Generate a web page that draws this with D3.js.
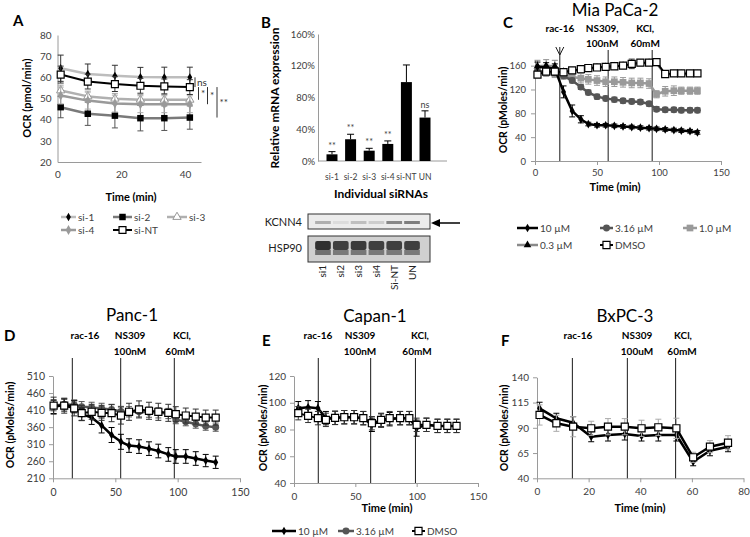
<!DOCTYPE html>
<html><head><meta charset="utf-8">
<script src="https://cdn.jsdelivr.net/npm/d3@7"></script>
<style>
body{margin:0;background:#fff;}
svg{font-family:Lato,"Open Sans",sans-serif;}
</style></head><body>
<svg id="c" width="750" height="537"></svg>
<script>
// ---------- DATA ----------
// Panel A
const aTimes = [1, 9.5, 18, 26, 33.5, 41.5];
const aYTicks = [20, 30, 40, 50, 60, 70, 80];
const aXTicks = [0, 20, 40];
const aSi1 = [64.3, 61.6, 60.7, 60.1, 60, 60];
const aSi1Err = [6.2, 4.7, 5, 4.6, 4.8, 4.8];
const aSi2 = [45.9, 42.8, 41.9, 40.7, 40.7, 41];
const aSi2Err = [5, 5.5, 5.8, 6, 5.8, 5.5];
const aSi3 = [53.8, 51, 49.9, 49.4, 49.4, 49.4];
const aSi3Err = [2.5, 2.5, 2.5, 2.5, 2.5, 2.5];
const aSi4 = [51.4, 49, 47.6, 47.3, 47.3, 47.3];
const aSi4Err = [4, 4, 4, 4, 4, 4];
const aSiNT = [61.3, 58, 56.8, 56, 55.7, 55.4];
const aSiNTErr = [4, 3.5, 3.5, 3.5, 3.5, 3.5];
const aSignif = ['ns', '*', '*', '**'];

// Panel B
const bCats = ['si-1', 'si-2', 'si-3', 'si-4', 'si-NT', 'UN'];
const bValues = [0.084, 0.274, 0.13, 0.215, 0.994, 0.547];
const bErrors = [0.034, 0.063, 0.03, 0.038, 0.216, 0.085];
const bSignif = ['**', '**', '**', '**', '', 'ns'];
const bYTicks = [0, 0.4, 0.8, 1.2, 1.6];
const blotLanes = ['si1', 'si2', 'si3', 'si4', 'Si-NT', 'UN'];
const kcnn4Band = [0.3, 0.08, 0.22, 0.15, 0.5, 0.55];
const hsp90Band = [0.95, 0.85, 0.88, 0.85, 0.85, 0.85];

// Panel C (Mia PaCa-2)
const cTimes = [2, 9, 16, 23, 30, 37, 43, 50, 57, 64, 71, 78, 85, 92, 98, 105, 112, 118, 125, 131];
const c10 = [158, 157, 155, 116, 84, 70, 62, 60, 60, 59, 58, 57, 56, 55, 54, 53, 52, 51, 50, 48];
const c10Err = [8, 8, 8, 10, 10, 6, 3, 3, 3, 3, 3, 3, 3, 3, 3, 3, 3, 3, 3, 3];
const c316 = [150, 150, 148, 143, 135, 124, 115, 108, 105, 103, 101, 100, 99, 96, 87, 86, 86, 85, 85, 85];
const c316Err = [4, 4, 4, 4, 4, 4, 4, 4, 4, 4, 4, 4, 4, 4, 4, 4, 4, 4, 4, 4];
const c1 = [148, 148, 146, 144, 141, 139, 137, 135, 133, 133, 132, 131, 131, 130, 112, 117, 118, 118, 118, 118];
const c1Err = [6, 6, 6, 7, 8, 8, 8, 8, 8, 8, 8, 8, 8, 8, 6, 8, 8, 6, 6, 6];
const c03 = [159, 160, 159, 150, 151, 153, 155, 157, 158, 159, 160, 162, 164, 165, 164, 145, 146, 146, 146, 146];
const c03Err = [10, 10, 10, 4, 4, 4, 4, 4, 4, 4, 4, 4, 4, 4, 4, 4, 4, 4, 4, 4];
const cDMSO = [145, 150, 150, 149, 152, 154, 156, 157, 158, 159, 160, 163, 165, 165, 166, 146, 147, 147, 147, 147];
const cDMSOErr = [4, 4, 4, 4, 4, 4, 4, 4, 4, 4, 4, 8, 4, 4, 4, 4, 4, 4, 4, 4];
const cYTicks = [0, 40, 80, 120, 160];
const cXTicks = [0, 50, 100, 150];
const cInject = [20, 59, 94.5];

// Panel D (Panc-1)
const dTimes = [0.5, 9, 17, 23, 31, 39, 47, 54.5, 61, 69, 77, 84.5, 92.5, 98.5, 106.5, 114.5, 122.5, 130.5];
const d10 = [420, 425, 420, 398, 388, 365, 337, 317, 306, 303, 297, 290, 280, 274, 274, 268, 262, 257];
const d316 = [423, 427, 425, 420, 418, 415, 412, 406, 405, 405, 404, 402, 400, 382, 376, 369, 363, 360];
const dDMSO = [423, 423, 415, 401, 405, 402, 401, 394, 405, 412, 408, 405, 402, 398, 394, 391, 388, 388];
const dErr10 = [20, 18, 18, 18, 20, 22, 22, 22, 20, 20, 20, 20, 20, 20, 20, 20, 18, 18];
const dErr316 = [15, 15, 15, 15, 15, 15, 15, 15, 15, 15, 15, 15, 15, 12, 12, 12, 12, 12];
const dErrDMSO = [25, 22, 22, 22, 22, 22, 25, 25, 25, 25, 25, 25, 25, 22, 22, 22, 22, 22];
const dYTicks = [210, 260, 310, 360, 410, 460, 510];
const dXTicks = [0, 50, 100, 150];
const dInject = [15.5, 54.3, 97.3];

// Panel E (Capan-1)
const eTimes = [3.5, 11.5, 19.5, 26, 33.5, 41, 49, 56.5, 63.5, 71, 78, 86.5, 94, 100, 108, 117, 125, 132.5];
const e10 = [95.9, 96.6, 95.9, 88.5, 88.7, 89.2, 89.2, 88.5, 83.5, 86.7, 87.7, 88.5, 88.5, 81, 83.5, 82.7, 82.7, 82.7];
const eDMSO = [92.2, 90.2, 88.5, 87.2, 88.7, 89.2, 89.2, 88.5, 84.7, 87.2, 88.5, 88.5, 88.5, 83.5, 83.5, 82.7, 82.7, 82.7];
const eErr10 = [5, 5, 5, 5, 5, 5, 5, 5, 5, 5, 5, 5, 5, 6, 5, 5, 5, 5];
const eErrDMSO = [5, 5, 5, 5, 5, 5, 5, 5, 5, 5, 5, 5, 5, 5, 5, 5, 5, 5];
const eYTicks = [40, 60, 80, 100, 120];
const eXTicks = [0, 50, 100, 150];
const eInject = [19.8, 62.5, 99];

// Panel F (BxPC-3)
const fTimes = [1, 7.5, 14, 21, 27.5, 34, 40.5, 47, 54, 60.5, 67, 74];
const f10 = [109.3, 99.4, 95, 81.2, 82.9, 83.9, 81.9, 82.9, 82.9, 56.4, 67.3, 71.3];
const fDMSO = [102.7, 94.5, 91.1, 89.5, 91.1, 91.1, 89.5, 90.5, 89.5, 60.8, 71.3, 75.2];
const fErr10 = [6, 5, 6, 5, 6, 6, 5, 6, 6, 4, 5, 5];
const fErrDMSO = [10, 8, 10, 7, 8, 8, 8, 8, 10, 5, 6, 7];
const fYTicks = [40, 65, 90, 115, 140];
const fXTicks = [0, 20, 40, 60, 80];
const fInject = [13.7, 35, 53.7];

// ---------- DRAWING ----------
const svg = d3.select('#c');
const FONT = 'Lato, "Open Sans", sans-serif';
const AXIS_COL = '#9a9a9a';
const TICK_TXT = '#404040';
const symbols = {diamond: d3.symbolDiamond, square: d3.symbolSquare, circle: d3.symbolCircle, triangle: d3.symbolTriangle};

function txt(g, x, y, s, o = {}) {
  const t = g.append('text').attr('x', x).attr('y', y).text(s)
    .attr('font-family', FONT)
    .attr('font-size', o.size || 10)
    .attr('font-weight', o.bold ? 'bold' : 'normal')
    .attr('fill', o.fill || '#000')
    .attr('text-anchor', o.anchor || 'start');
  if (o.rotate) t.attr('transform', `rotate(${o.rotate},${x},${y})`);
  return t;
}

function styleAxis(a, fs) {
  a.attr('font-family', null).attr('font-size', null);
  a.select('.domain').attr('stroke', AXIS_COL).attr('stroke-width', 1);
  a.selectAll('.tick line').attr('stroke', AXIS_COL);
  a.selectAll('.tick text').attr('fill', TICK_TXT).attr('font-family', FONT).attr('font-size', fs || 10);
}

function drawSeries(g, x, y, s) {
  const pts = s.t.map((t, i) => ({t, v: s.v[i], e: s.e ? s.e[i] : 0}));
  const eg = g.append('g').attr('stroke', s.ecolor || s.color).attr('stroke-width', 1);
  pts.forEach(p => {
    if (!p.e) return;
    const cx = x(p.t), lo = y(p.v - p.e), hi = y(p.v + p.e);
    eg.append('line').attr('x1', cx).attr('x2', cx).attr('y1', lo).attr('y2', hi);
    eg.append('line').attr('x1', cx - 3).attr('x2', cx + 3).attr('y1', hi).attr('y2', hi);
    eg.append('line').attr('x1', cx - 3).attr('x2', cx + 3).attr('y1', lo).attr('y2', lo);
  });
  g.append('path').datum(pts)
    .attr('d', d3.line().x(d => x(d.t)).y(d => y(d.v)))
    .attr('fill', 'none').attr('stroke', s.color).attr('stroke-width', s.lw || 2)
    .attr('stroke-linejoin', 'round');
  const sym = d3.symbol().type(symbols[s.marker]).size(s.msize || 30);
  g.append('g').selectAll('path').data(pts).join('path')
    .attr('d', sym)
    .attr('transform', d => `translate(${x(d.t)},${y(d.v)})`)
    .attr('fill', s.mfill).attr('stroke', s.mstroke || 'none').attr('stroke-width', s.msw || 1);
}

function legendItem(g, x1, x2, yy, label, s) {
  g.append('line').attr('x1', x1).attr('x2', x2).attr('y1', yy).attr('y2', yy)
    .attr('stroke', s.color).attr('stroke-width', s.lw || 2);
  g.append('path').attr('d', d3.symbol().type(symbols[s.marker]).size(s.msize || 30)())
    .attr('transform', `translate(${(x1 + x2) / 2},${yy})`)
    .attr('fill', s.mfill).attr('stroke', s.mstroke || 'none').attr('stroke-width', s.msw || 1);
  txt(g, x2 + 2, yy + 3.5, label, {size: 10, fill: '#404040'});
}

function linePanel(cfg) {
  const g = svg.append('g');
  const x = d3.scaleLinear().domain(cfg.xDomain).range(cfg.xRange);
  const y = d3.scaleLinear().domain(cfg.yDomain).range(cfg.yRange);
  const ya = g.append('g').attr('transform', `translate(${cfg.xRange[0]},0)`)
    .call(d3.axisLeft(y).tickValues(cfg.yTicks).tickSize(cfg.tick || 0).tickSizeOuter(0).tickPadding(cfg.ypad || 4));
  styleAxis(ya, cfg.fs);
  const xa = g.append('g').attr('transform', `translate(0,${cfg.yRange[0]})`)
    .call(d3.axisBottom(x).tickValues(cfg.xTicks).tickSize(cfg.tick || 0).tickSizeOuter(0).tickPadding(cfg.xpad || 5));
  styleAxis(xa, cfg.fs);
  (cfg.vlines || []).forEach((v, i) => {
    const top = cfg.vTops ? cfg.vTops[i] : cfg.vTop;
    g.append('line').attr('x1', x(v)).attr('x2', x(v)).attr('y1', top).attr('y2', cfg.yRange[0])
      .attr('stroke', '#1a1a1a').attr('stroke-width', 1);
    if (cfg.arrow === i) {
      g.append('path').attr('d', `M${x(v) - 4},${top} L${x(v)},${top + 8} L${x(v) + 4},${top}`)
        .attr('fill', 'none').attr('stroke', '#1a1a1a');
    }
  });
  cfg.series.forEach(s => drawSeries(g, x, y, s));
  return {g, x, y};
}

// styles
const S10 = {color: '#000', lw: 2.5, marker: 'diamond', mfill: '#000', msize: 22, ecolor: '#000'};
const S316 = {color: '#555', lw: 2.5, marker: 'circle', mfill: '#555', msize: 38, ecolor: '#555'};
const S1 = {color: '#9a9a9a', lw: 2.5, marker: 'square', mfill: '#9a9a9a', msize: 45, ecolor: '#9a9a9a'};
const S03 = {color: '#8a8a8a', lw: 2.5, marker: 'triangle', mfill: '#000', msize: 25, ecolor: '#8a8a8a'};
const SDMSO = {color: '#000', lw: 2, marker: 'square', mfill: '#fff', mstroke: '#000', msw: 1.2, msize: 50, ecolor: '#333'};

// ===== Panel A =====
{
  const A = linePanel({
    xDomain: [0, 45], xRange: [57.5, 201], yDomain: [20, 80], yRange: [162, 35],
    yTicks: aYTicks, xTicks: aXTicks, tick: 0, ypad: 6, xpad: 9,
    series: [
      {t: aTimes, v: aSi1, e: aSi1Err, color: '#bdbdbd', lw: 2.5, marker: 'diamond', mfill: '#000', msize: 20, ecolor: '#333'},
      {t: aTimes, v: aSi2, e: aSi2Err, color: '#7a7a7a', lw: 2.5, marker: 'square', mfill: '#000', msize: 42, ecolor: '#555'},
      {t: aTimes, v: aSi3, e: aSi3Err, color: '#b0b0b0', lw: 2.5, marker: 'triangle', mfill: '#fff', mstroke: '#999', msize: 30, ecolor: '#aaa'},
      {t: aTimes, v: aSi4, e: aSi4Err, color: '#9a9a9a', lw: 2.5, marker: 'diamond', mfill: '#9a9a9a', msize: 28, ecolor: '#aaa'},
      {t: aTimes, v: aSiNT, e: aSiNTErr, color: '#000', lw: 2, marker: 'square', mfill: '#fff', mstroke: '#000', msw: 1.2, msize: 48, ecolor: '#333'}
    ]
  });
  const g = A.g, y = A.y;
  const last = arr => arr[arr.length - 1];
  const br = [
    {x: 195, a: last(aSi1), b: last(aSiNT), tx: 197, lab: aSignif[0]},
    {x: 198.5, a: last(aSiNT), b: last(aSi3), tx: 201, lab: aSignif[1]},
    {x: 207.5, a: last(aSiNT), b: last(aSi4), tx: 210, lab: aSignif[2]},
    {x: 217, a: last(aSiNT), b: last(aSi2), tx: 219.5, lab: aSignif[3]}
  ];
  br.forEach(b => {
    g.append('line').attr('x1', b.x).attr('x2', b.x).attr('y1', y(b.a)).attr('y2', y(b.b)).attr('stroke', '#333').attr('stroke-width', 1);
    txt(g, b.tx, (y(b.a) + y(b.b)) / 2 + 3.5, b.lab, {size: 10, fill: '#333'});
  });
  txt(svg, 13, 26, 'A', {size: 15, bold: true});
  txt(svg, 31, 98, 'OCR (pmol/min)', {size: 11, bold: true, anchor: 'middle', rotate: -90});
  txt(svg, 131, 201, 'Time (min)', {size: 11, bold: true, anchor: 'middle'});
  const lg = svg.append('g');
  legendItem(lg, 61, 76, 217, 'si-1', {color: '#bdbdbd', lw: 2.5, marker: 'diamond', mfill: '#000', msize: 20});
  legendItem(lg, 113, 132, 217, 'si-2', {color: '#7a7a7a', lw: 2.5, marker: 'square', mfill: '#000', msize: 42});
  legendItem(lg, 167, 187, 217, 'si-3', {color: '#b0b0b0', lw: 2.5, marker: 'triangle', mfill: '#fff', mstroke: '#999', msize: 30});
  legendItem(lg, 61, 76, 230, 'si-4', {color: '#9a9a9a', lw: 2.5, marker: 'diamond', mfill: '#9a9a9a', msize: 28});
  legendItem(lg, 113, 132, 230, 'si-NT', {color: '#000', lw: 2, marker: 'square', mfill: '#fff', mstroke: '#000', msw: 1.2, msize: 48});
}

// ===== Panel B =====
{
  const g = svg.append('g');
  const y = d3.scaleLinear().domain([0, 1.6]).range([161, 34]);
  const x = d3.scaleBand().domain(bCats).range([326.5, 430.5]).paddingInner(0.41).paddingOuter(0);
  const ya = g.append('g').attr('transform', 'translate(318,0)')
    .call(d3.axisLeft(y).tickValues(bYTicks).tickFormat(d3.format('.0%')).tickSize(0).tickSizeOuter(0).tickPadding(3));
  styleAxis(ya, 9.5);
  g.append('line').attr('x1', 318).attr('x2', 447).attr('y1', 161).attr('y2', 161).attr('stroke', AXIS_COL);
  bCats.forEach((c, i) => {
    const bx = x(c), bw = x.bandwidth(), cx = bx + bw / 2;
    g.append('rect').attr('x', bx).attr('y', y(bValues[i])).attr('width', bw).attr('height', y(0) - y(bValues[i])).attr('fill', '#000');
    const top = y(bValues[i] + bErrors[i]);
    g.append('line').attr('x1', cx).attr('x2', cx).attr('y1', y(bValues[i])).attr('y2', top).attr('stroke', '#000');
    g.append('line').attr('x1', cx - 3.5).attr('x2', cx + 3.5).attr('y1', top).attr('y2', top).attr('stroke', '#000');
    if (bSignif[i]) txt(g, cx, top - 3, bSignif[i], {size: 9, anchor: 'middle', fill: '#404040'});
    txt(g, cx, 180, c, {size: 8.5, anchor: 'middle', fill: '#404040'});
  });
  txt(svg, 261, 28, 'B', {size: 15, bold: true});
  txt(svg, 279, 98, 'Relative mRNA expression', {size: 12, bold: true, anchor: 'middle', rotate: -90});
  txt(svg, 381, 198, 'Individual siRNAs', {size: 12, bold: true, anchor: 'middle'});

  // Western blot
  const lx = d3.scaleBand().domain(blotLanes).range([313, 422]).padding(0.12);
  g.append('rect').attr('x', 308).attr('y', 214).attr('width', 122).attr('height', 15).attr('fill', '#ececec').attr('stroke', '#333');
  blotLanes.forEach((l, i) => {
    g.append('rect').attr('x', lx(l)).attr('y', 221).attr('width', lx.bandwidth()).attr('height', 3)
      .attr('fill', '#222').attr('opacity', kcnn4Band[i]);
  });
  g.append('rect').attr('x', 308).attr('y', 236).attr('width', 122).attr('height', 26).attr('fill', '#d0d0d0').attr('stroke', '#333');
  blotLanes.forEach((l, i) => {
    g.append('rect').attr('x', lx(l)).attr('y', 241).attr('width', lx.bandwidth()).attr('height', 9)
      .attr('fill', '#262626').attr('opacity', hsp90Band[i]).attr('rx', 2);
    g.append('rect').attr('x', lx(l)).attr('y', 250).attr('width', lx.bandwidth()).attr('height', 5)
      .attr('fill', '#6a6a6a').attr('opacity', hsp90Band[i]);
    txt(g, lx(l) + lx.bandwidth() / 2 + 3.5, 265, l, {size: 10, anchor: 'end', rotate: -90, fill: '#222'});
  });
  txt(g, 302, 226, 'KCNN4', {size: 11, anchor: 'end', fill: '#222'});
  txt(g, 302, 252, 'HSP90', {size: 11, anchor: 'end', fill: '#222'});
  g.append('line').attr('x1', 460).attr('x2', 438).attr('y1', 223).attr('y2', 223).attr('stroke', '#000').attr('stroke-width', 1.5);
  g.append('path').attr('d', 'M431,223 L440,219 L440,227 Z').attr('fill', '#000');
}

// ===== Panel C =====
{
  const C = linePanel({
    xDomain: [0, 150], xRange: [535, 721], yDomain: [0, 170], yRange: [161, 59.7],
    yTicks: cYTicks, xTicks: cXTicks, tick: 4, ypad: 5, xpad: 4, fs: 9.5,
    vlines: cInject, vTops: [47, 50, 50], arrow: 0,
    series: [
      Object.assign({t: cTimes, v: c03, e: c03Err}, S03),
      Object.assign({t: cTimes, v: c1, e: c1Err}, S1),
      Object.assign({t: cTimes, v: c316, e: c316Err}, S316),
      Object.assign({t: cTimes, v: c10, e: c10Err}, S10),
      Object.assign({t: cTimes, v: cDMSO, e: cDMSOErr}, SDMSO)
    ]
  });
  const x = C.x;
  txt(svg, 615, 16, 'Mia PaCa-2', {size: 17, anchor: 'middle'});
  txt(svg, 503, 28, 'C', {size: 15, bold: true});
  txt(svg, 560, 32, 'rac-16', {size: 10, bold: true, anchor: 'middle'});
  txt(svg, x(cInject[1]) - 6, 32, 'NS309,', {size: 10, bold: true, anchor: 'middle'});
  txt(svg, x(cInject[1]) - 6, 47, '100nM', {size: 10, bold: true, anchor: 'middle'});
  txt(svg, x(cInject[2]) - 7, 32, 'KCl,', {size: 10, bold: true, anchor: 'middle'});
  txt(svg, x(cInject[2]) - 7, 47, '60mM', {size: 10, bold: true, anchor: 'middle'});
  txt(svg, 507, 110, 'OCR (pMoles/min)', {size: 10.5, bold: true, anchor: 'middle', rotate: -90});
  txt(svg, 615, 191, 'Time (min)', {size: 11, bold: true, anchor: 'middle'});
  const lg = svg.append('g');
  legendItem(lg, 517, 538, 228, '10 µM', S10);
  legendItem(lg, 600, 613, 228, '3.16 µM', S316);
  legendItem(lg, 683, 697, 228, '1.0 µM', S1);
  legendItem(lg, 517, 538, 245, '0.3 µM', S03);
  legendItem(lg, 600, 613, 245, 'DMSO', SDMSO);
}

// ===== Panel D =====
{
  linePanel({
    xDomain: [0, 150], xRange: [53, 240], yDomain: [210, 510], yRange: [478.3, 376],
    yTicks: dYTicks, xTicks: dXTicks, tick: 4, ypad: 4, xpad: 6, fs: 10.5,
    vlines: dInject, vTop: 358,
    series: [
      Object.assign({t: dTimes, v: d316, e: dErr316}, S316),
      Object.assign({t: dTimes, v: d10, e: dErr10}, S10),
      Object.assign({t: dTimes, v: dDMSO, e: dErrDMSO}, SDMSO)
    ]
  });
  txt(svg, 132, 321, 'Panc-1', {size: 17, anchor: 'middle'});
  txt(svg, 4, 341, 'D', {size: 15, bold: true});
  txt(svg, 85, 339, 'rac-16', {size: 10, bold: true, anchor: 'middle'});
  txt(svg, 130, 339, 'NS309', {size: 10, bold: true, anchor: 'middle'});
  txt(svg, 130, 355, '100nM', {size: 10, bold: true, anchor: 'middle'});
  txt(svg, 182, 339, 'KCl,', {size: 10, bold: true, anchor: 'middle'});
  txt(svg, 180, 355, '60mM', {size: 10, bold: true, anchor: 'middle'});
  txt(svg, 14, 425, 'OCR (pMoles/min)', {size: 10.5, bold: true, anchor: 'middle', rotate: -90});
}

// ===== Panel E =====
{
  linePanel({
    xDomain: [0, 150], xRange: [294, 478], yDomain: [40, 120], yRange: [483, 376],
    yTicks: eYTicks, xTicks: eXTicks, tick: 4, ypad: 4, xpad: 6, fs: 10,
    vlines: eInject, vTop: 358,
    series: [
      Object.assign({t: eTimes, v: e10, e: eErr10}, S10),
      Object.assign({t: eTimes, v: eDMSO, e: eErrDMSO}, SDMSO)
    ]
  });
  txt(svg, 375, 322, 'Capan-1', {size: 17, anchor: 'middle'});
  txt(svg, 262, 346, 'E', {size: 15, bold: true});
  txt(svg, 318, 339, 'rac-16', {size: 10, bold: true, anchor: 'middle'});
  txt(svg, 360, 339, 'NS309', {size: 10, bold: true, anchor: 'middle'});
  txt(svg, 360, 355, '100nM', {size: 10, bold: true, anchor: 'middle'});
  txt(svg, 420, 339, 'KCl,', {size: 10, bold: true, anchor: 'middle'});
  txt(svg, 417, 355, '60mM', {size: 10, bold: true, anchor: 'middle'});
  txt(svg, 267, 428, 'OCR (pMoles/min)', {size: 10.5, bold: true, anchor: 'middle', rotate: -90});
  txt(svg, 387, 512, 'Time (min)', {size: 11, bold: true, anchor: 'middle'});
  const lg = svg.append('g');
  legendItem(lg, 272, 296, 531, '10 µM', S10);
  legendItem(lg, 338, 354, 531, '3.16 µM', S316);
  legendItem(lg, 412, 425, 531, 'DMSO', SDMSO);
}

// ===== Panel F =====
{
  linePanel({
    xDomain: [0, 80], xRange: [537, 743.5], yDomain: [40, 140], yRange: [478.3, 377.3],
    yTicks: fYTicks, xTicks: fXTicks, tick: 4, ypad: 4, xpad: 6, fs: 10,
    vlines: fInject, vTop: 358,
    series: [
      Object.assign({t: fTimes, v: f10, e: fErr10}, S10, {lw: 2.5}),
      Object.assign({t: fTimes, v: fDMSO, e: fErrDMSO}, SDMSO, {lw: 2.5, ecolor: '#aaa'})
    ]
  });
  txt(svg, 625, 322, 'BxPC-3', {size: 17, anchor: 'middle'});
  txt(svg, 501, 346, 'F', {size: 15, bold: true});
  txt(svg, 578, 339, 'rac-16', {size: 10, bold: true, anchor: 'middle'});
  txt(svg, 637, 339, 'NS309', {size: 10, bold: true, anchor: 'middle'});
  txt(svg, 637, 355, '100uM', {size: 10, bold: true, anchor: 'middle'});
  txt(svg, 683, 339, 'KCl,', {size: 10, bold: true, anchor: 'middle'});
  txt(svg, 682, 355, '60mM', {size: 10, bold: true, anchor: 'middle'});
  txt(svg, 508, 428, 'OCR (pMoles/min)', {size: 10.5, bold: true, anchor: 'middle', rotate: -90});
  txt(svg, 640, 512, 'Time (min)', {size: 11, bold: true, anchor: 'middle'});
}
</script>
</body></html>
